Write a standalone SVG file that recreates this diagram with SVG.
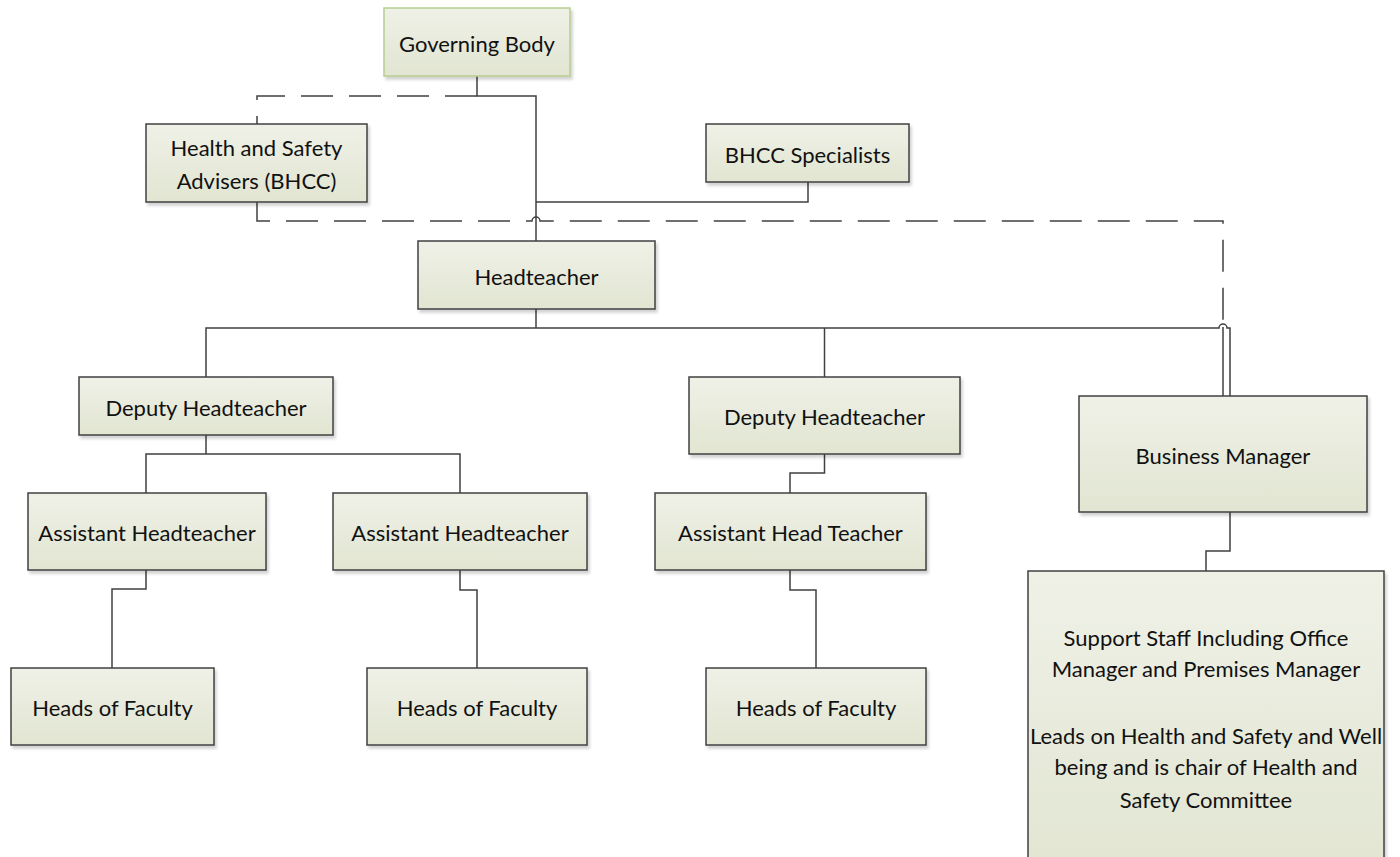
<svg xmlns="http://www.w3.org/2000/svg" width="1400" height="857" viewBox="0 0 1400 857">
<defs>
<linearGradient id="g" x1="0" y1="0" x2="0" y2="1">
<stop offset="0" stop-color="#eff1e7"/>
<stop offset="1" stop-color="#e1e5d1"/>
</linearGradient>
<filter id="sh" x="-5%" y="-5%" width="115%" height="125%">
<feDropShadow dx="2" dy="3" stdDeviation="1.5" flood-color="#000" flood-opacity="0.18"/>
</filter>
<style>
.n rect{fill:url(#g);stroke:#404040;stroke-width:1.5;filter:url(#sh)}
.n.gb rect{stroke:#b7cd8e}
.n text{font-family:Lato,"Open Sans","Liberation Sans",sans-serif;font-size:22px;fill:#111;text-anchor:middle;dominant-baseline:central}
.c path{fill:none;stroke:#404040;stroke-width:1.5}
.c path.d{stroke-dasharray:32 16}
</style>
</defs>
<rect width="1400" height="857" fill="#fff"/>
<g id="connectors" class="c">
<path d="M477,76 V96 H536 V241"/>
<path class="d" d="M477,96 H257 V124"/>
<path class="d" d="M257,202 V221 H532 A4,4 0 0 1 540,221 H1223 V327"/>
<path d="M1223,327 V396"/>
<path d="M808,182 V202 H536"/>
<path d="M536,309 V328"/>
<path d="M206,377 V328 H1219 A4,4 0 0 1 1227,328 H1230 V396"/>
<path d="M824.5,328 V377"/>
<path d="M206,435 V454"/>
<path d="M146,493 V454 H460 V493"/>
<path d="M146,570 V589 H112 V668"/>
<path d="M460,570 V590 H477 V668"/>
<path d="M824.5,454 V473 H790 V493"/>
<path d="M790,570 V590 H816 V668"/>
<path d="M1230,512 V551 H1206 V571"/>
</g>
<g id="governing-body" class="n gb"><rect x="384" y="8" width="186" height="68"/><text x="477" y="43">Governing Body</text></g>
<g id="hs-advisers" class="n"><rect x="146" y="124" width="221" height="78"/><text x="256.5" y="147">Health and Safety</text><text x="256.5" y="180">Advisers (BHCC)</text></g>
<g id="bhcc-specialists" class="n"><rect x="706" y="124" width="203" height="58"/><text x="807.5" y="154">BHCC Specialists</text></g>
<g id="headteacher" class="n"><rect x="418" y="241" width="237" height="68"/><text x="536.5" y="276">Headteacher</text></g>
<g id="deputy-1" class="n"><rect x="79" y="377" width="254" height="58"/><text x="206" y="407">Deputy Headteacher</text></g>
<g id="deputy-2" class="n"><rect x="689" y="377" width="271" height="77"/><text x="824.5" y="416">Deputy Headteacher</text></g>
<g id="business-manager" class="n"><rect x="1079" y="396" width="288" height="116"/><text x="1223" y="455">Business Manager</text></g>
<g id="assistant-1" class="n"><rect x="28" y="493" width="238" height="77"/><text x="147" y="532">Assistant Headteacher</text></g>
<g id="assistant-2" class="n"><rect x="333" y="493" width="254" height="77"/><text x="460" y="532">Assistant Headteacher</text></g>
<g id="assistant-3" class="n"><rect x="655" y="493" width="271" height="77"/><text x="790.5" y="532">Assistant Head Teacher</text></g>
<g id="faculty-1" class="n"><rect x="11" y="668" width="203" height="77"/><text x="112.5" y="707">Heads of Faculty</text></g>
<g id="faculty-2" class="n"><rect x="367" y="668" width="220" height="77"/><text x="477" y="707">Heads of Faculty</text></g>
<g id="faculty-3" class="n"><rect x="706" y="668" width="220" height="77"/><text x="816" y="707">Heads of Faculty</text></g>
<g id="support-staff" class="n"><rect x="1028" y="571" width="356" height="310"/>
<text x="1206" y="637">Support Staff Including Office</text>
<text x="1206" y="668">Manager and Premises Manager</text>
<text x="1206" y="735">Leads on Health and Safety and Well</text>
<text x="1206" y="766">being and is chair of Health and</text>
<text x="1206" y="799">Safety Committee</text>
</g>
</svg>
